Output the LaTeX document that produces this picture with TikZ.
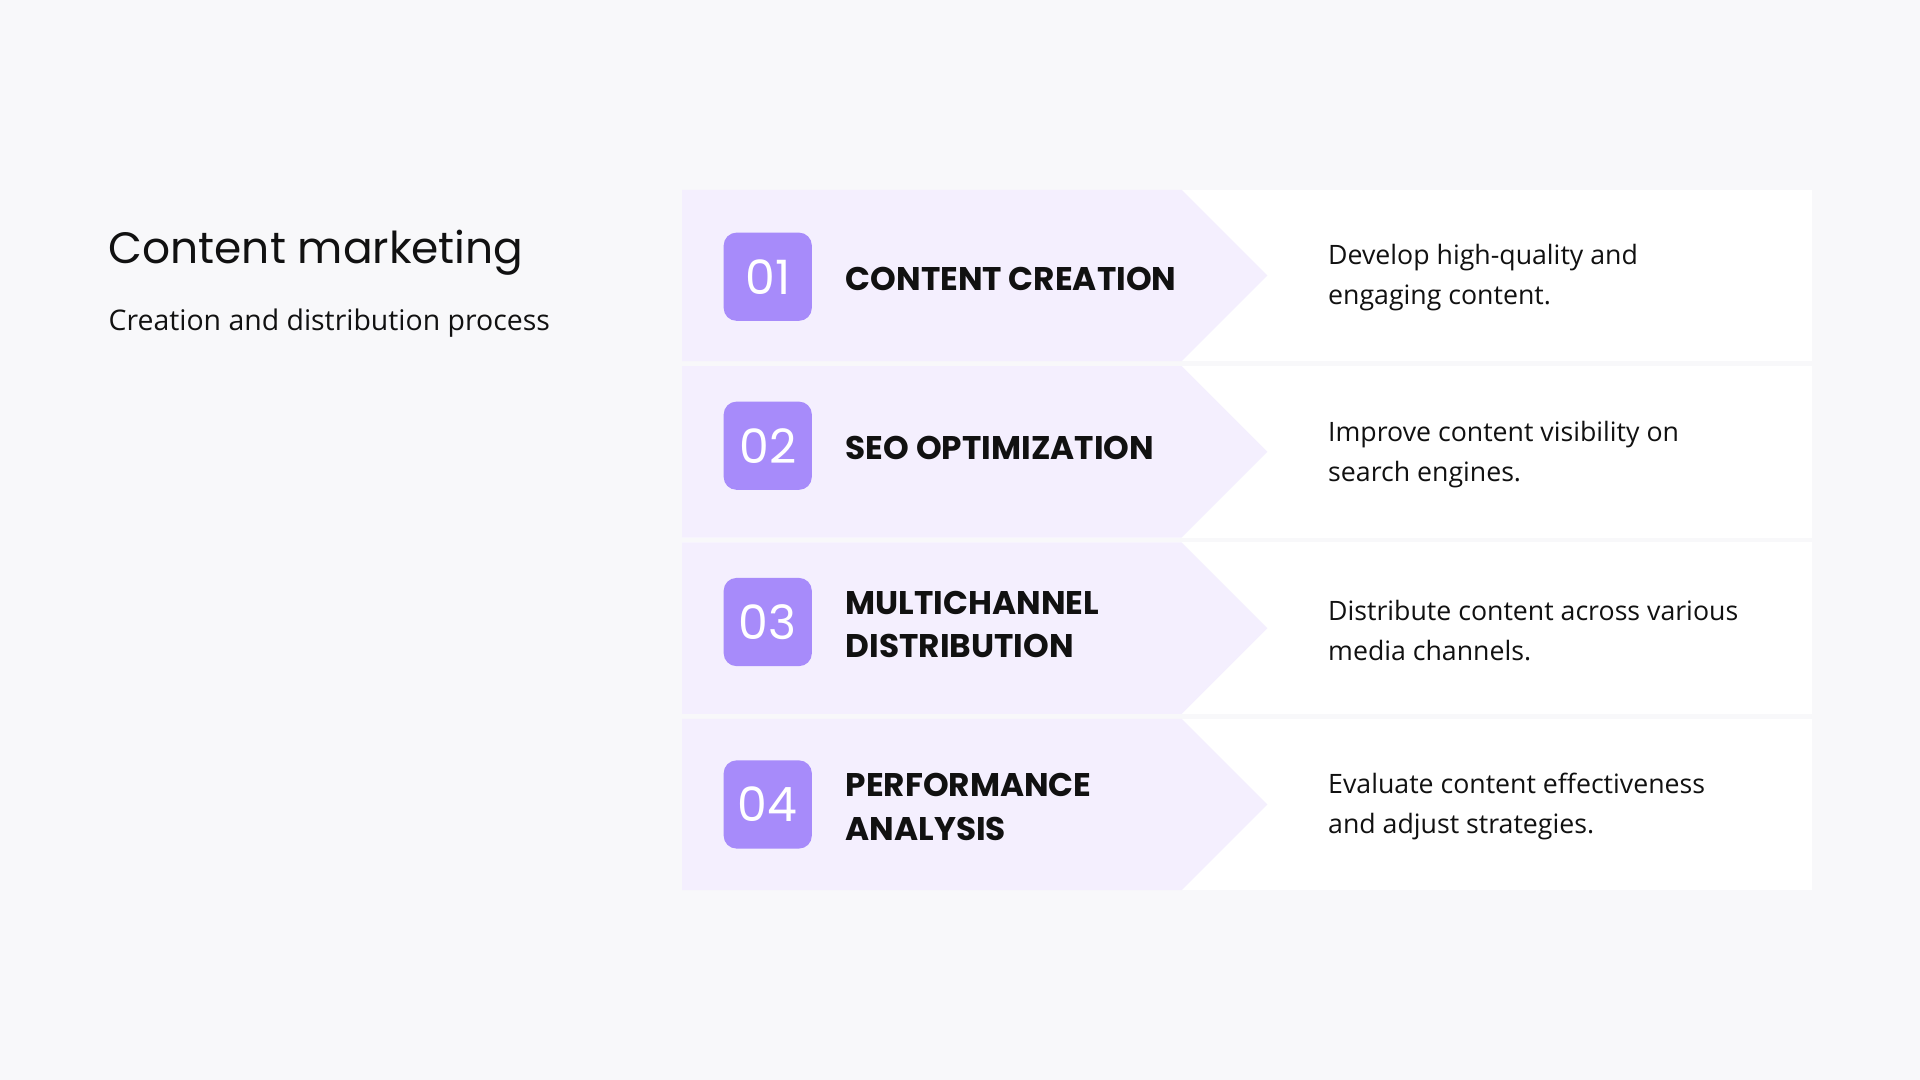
\documentclass[tikz,border=0pt]{standalone}
\usepackage{fontspec}
\setmainfont{Open Sans}
\newfontfamily\headfont{Poppins}
\usetikzlibrary{positioning}
\definecolor{bgcol}{HTML}{F8F8FA}
\definecolor{arrowcol}{HTML}{F4EFFE}
\definecolor{numcol}{HTML}{A78BFA}
\definecolor{inkcol}{HTML}{111111}
\tikzstyle{numbox} = [rectangle, fill=numcol, rounded corners=3pt,
    minimum width=0.72cm, minimum height=0.72cm, inner sep=0pt,
    text=white, font=\headfont\fontsize{11}{11}\selectfont]
\tikzstyle{steptitle} = [anchor=west, align=left, inner sep=0pt,
    text=inkcol, font=\headfont\fontsize{7.6}{10.2}\selectfont\bfseries]
\tikzstyle{desc} = [anchor=west, align=left, inner sep=0pt,
    text=inkcol, font=\fontsize{6.2}{9.3}\selectfont]
\begin{document}
\begin{tikzpicture}[x=0.01cm, y=-0.01cm]
    % Background
    \fill [bgcol] (0,0) rectangle (1568,882);
    \useasboundingbox (0,0) rectangle (1568,882);
    % Heading
    \node [anchor=west, inner sep=0pt, text=inkcol,
        font=\headfont\fontsize{10.2}{12}\selectfont] (title) at (88,206) {Content marketing};
    \node [anchor=west, inner sep=0pt, text=inkcol,
        font=\fontsize{6.6}{8}\selectfont] (subtitle) at (88,264) {Creation and distribution process};
    % Rows
    \foreach \i/\top/\mid/\num/\name/\text in {
        1/155/226/01/{CONTENT CREATION}/{Develop high-quality and\\engaging content.},
        2/299/364/02/{SEO OPTIMIZATION}/{Improve content visibility on\\search engines.},
        3/443/508/03/{MULTICHANNEL\\DISTRIBUTION}/{Distribute content across various\\media channels.},
        4/587/657/04/{PERFORMANCE\\ANALYSIS}/{Evaluate content effectiveness\\and adjust strategies.}} {
        \fill [white] (557,\top) rectangle (1480,\top+140);
        \fill [arrowcol] (557,\top) -- (965,\top) -- (1035,\top+70)
            -- (965,\top+140) -- (557,\top+140) -- cycle;
        \node [numbox] (n\i) at (627,\mid) {\num};
        \node [steptitle] (t\i) at (690,\mid+2) {\name};
        \node [desc] (d\i) at (1084,\top+72) {\text};
    }
\end{tikzpicture}
\end{document}
